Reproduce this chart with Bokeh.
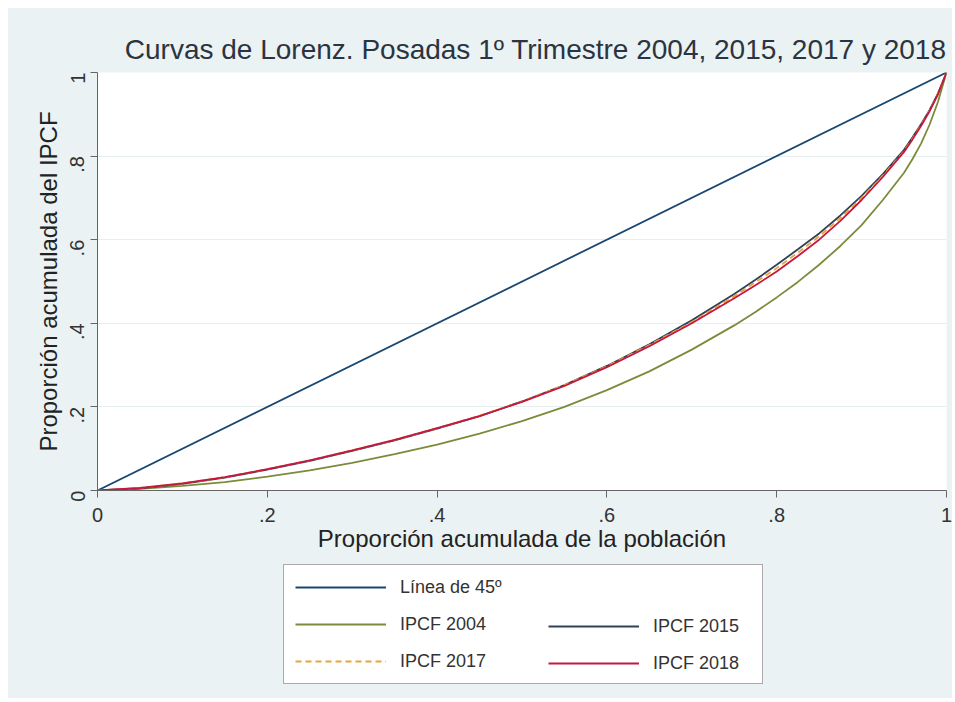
import math
from bokeh.plotting import figure
from bokeh.layouts import column
from bokeh.models import Range1d, FixedTicker, Legend, LegendItem
from bokeh.embed import file_html
from bokeh.resources import INLINE

# ---- data ----
poblacion = [0.0, 0.05, 0.10, 0.15, 0.20, 0.25, 0.30, 0.35, 0.40, 0.45, 0.50,
             0.55, 0.60, 0.65, 0.70, 0.75, 0.775, 0.80, 0.825, 0.85, 0.875,
             0.90, 0.925, 0.95, 0.96, 0.97, 0.98, 0.99, 1.0]
ipcf_2004 = [0.0, 0.004, 0.011, 0.020, 0.033, 0.048, 0.066, 0.087, 0.110, 0.136, 0.166,
             0.200, 0.240, 0.285, 0.337, 0.395, 0.427, 0.462, 0.499, 0.540, 0.585,
             0.635, 0.695, 0.760, 0.793, 0.830, 0.875, 0.930, 1.0]
ipcf_2015 = [0.0, 0.005, 0.016, 0.031, 0.050, 0.071, 0.095, 0.120, 0.148, 0.178, 0.213,
             0.252, 0.298, 0.350, 0.407, 0.470, 0.504, 0.540, 0.577, 0.615, 0.658,
             0.705, 0.757, 0.815, 0.845, 0.876, 0.910, 0.950, 1.0]
ipcf_2017 = [0.0, 0.006, 0.017, 0.032, 0.051, 0.072, 0.096, 0.121, 0.149, 0.179, 0.213,
             0.252, 0.297, 0.348, 0.403, 0.465, 0.498, 0.532, 0.569, 0.608, 0.652,
             0.700, 0.753, 0.812, 0.842, 0.874, 0.908, 0.949, 1.0]
ipcf_2018 = [0.0, 0.006, 0.017, 0.032, 0.051, 0.072, 0.096, 0.121, 0.149, 0.178, 0.212,
             0.250, 0.295, 0.345, 0.400, 0.460, 0.491, 0.524, 0.561, 0.600, 0.645,
             0.695, 0.750, 0.810, 0.840, 0.872, 0.907, 0.948, 1.0]
linea_x = [0.0, 1.0]
linea_y = [0.0, 1.0]

ticks = [0.0, 0.2, 0.4, 0.6, 0.8, 1.0]
tick_labels = ["0", ".2", ".4", ".6", ".8", "1"]

titulo = "Curvas de Lorenz. Posadas 1º Trimestre 2004, 2015, 2017 y 2018"
etiqueta_x = "Proporción acumulada de la población"
etiqueta_y = "Proporción acumulada del IPCF"
nombres = ["Línea de 45º", "IPCF 2004", "IPCF 2015", "IPCF 2017", "IPCF 2018"]

FONT = "Liberation Sans"
BG = "#eaf2f3"
LW = 1.8
styles = [
    dict(line_color="#1a476f", line_width=LW),
    dict(line_color="#7a8c3a", line_width=LW),
    dict(line_color="#2f4258", line_width=LW),
    dict(line_color="#e8a33c", line_width=LW, line_dash="6 4"),
    dict(line_color="#c8173e", line_width=LW),
]

p = figure(width=944, height=547, output_backend="svg", toolbar_location=None,
           x_range=Range1d(0, 1), y_range=Range1d(0, 1),
           min_border_left=89, min_border_right=6, min_border_top=64,
           min_border_bottom=65,
           background_fill_color="white", border_fill_color=BG,
           outline_line_color=None, title=titulo)

p.title.text_font = FONT
p.title.text_font_size = "28px"
p.title.text_font_style = "normal"
p.title.text_color = "#2b3440"
p.title.align = "right"
p.title.offset = 0
p.title.standoff = 15

# lines
p.line(linea_x, linea_y, **styles[0])
p.line(poblacion, ipcf_2004, **styles[1])
p.line(poblacion, ipcf_2015, **styles[2])
p.line(poblacion, ipcf_2017, **styles[3])
p.line(poblacion, ipcf_2018, **styles[4])

# axes
for ax in (p.xaxis[0], p.yaxis[0]):
    ax.ticker = FixedTicker(ticks=ticks)
    ax.major_label_overrides = dict(zip(ticks, tick_labels))
    ax.axis_line_color = "#666666"
    ax.major_tick_line_color = "#666666"
    ax.major_tick_in = 0
    ax.major_tick_out = 7
    ax.minor_tick_line_color = None
    ax.major_label_text_font = FONT
    ax.major_label_text_font_size = "20px"
    ax.major_label_text_color = "#333333"
    ax.axis_label_text_font = FONT
    ax.axis_label_text_font_size = "24px"
    ax.axis_label_text_font_style = "normal"
    ax.axis_label_text_color = "#222222"

p.xaxis.axis_label = etiqueta_x
p.yaxis.axis_label = etiqueta_y
p.xaxis.major_label_standoff = 10
p.xaxis.axis_label_standoff = 0
p.yaxis.major_label_standoff = 13
p.yaxis.axis_label_standoff = -1
p.yaxis.major_label_orientation = math.pi / 2

p.xgrid.visible = False
p.ygrid.grid_line_color = "#e6eef0"
p.ygrid.ticker = FixedTicker(ticks=ticks)

# ---- legend strip (same background, holds the legend boxes) ----
q = figure(width=944, height=143, output_backend="svg", toolbar_location=None,
           x_axis_type=None, y_axis_type=None, min_border=0,
           x_range=Range1d(0, 1), y_range=Range1d(0, 1),
           background_fill_color=BG, border_fill_color=BG, outline_line_color=None)
q.grid.visible = False
lr = [q.line(x=[float("nan")], y=[float("nan")], **s) for s in styles]

common = dict(glyph_width=91, glyph_height=22, label_height=22, label_standoff=14,
              padding=11, spacing=15, margin=0,
              label_text_font=FONT, label_text_font_size="18px",
              label_text_color="#333333", orientation="vertical")

legA = Legend(items=[LegendItem(label=nombres[0], renderers=[lr[0]]),
                     LegendItem(label=nombres[1], renderers=[lr[1]]),
                     LegendItem(label=nombres[3], renderers=[lr[3]])],
              location=(186, 14), label_width=351,
              border_line_color="#555555", border_line_width=1,
              background_fill_color="white", background_fill_alpha=1.0, **common)
legB = Legend(items=[LegendItem(label=nombres[2], renderers=[lr[2]]),
                     LegendItem(label=nombres[4], renderers=[lr[4]])],
              location=(451, 24), label_width=80,
              border_line_color=None, background_fill_alpha=0.0, **common)
q.add_layout(legA)
q.add_layout(legB)

page = column(p, q, spacing=0, margin=(8, 0, 0, 8),
              styles={"background-color": BG})
open("out.html", "w").write(file_html(page, INLINE))
